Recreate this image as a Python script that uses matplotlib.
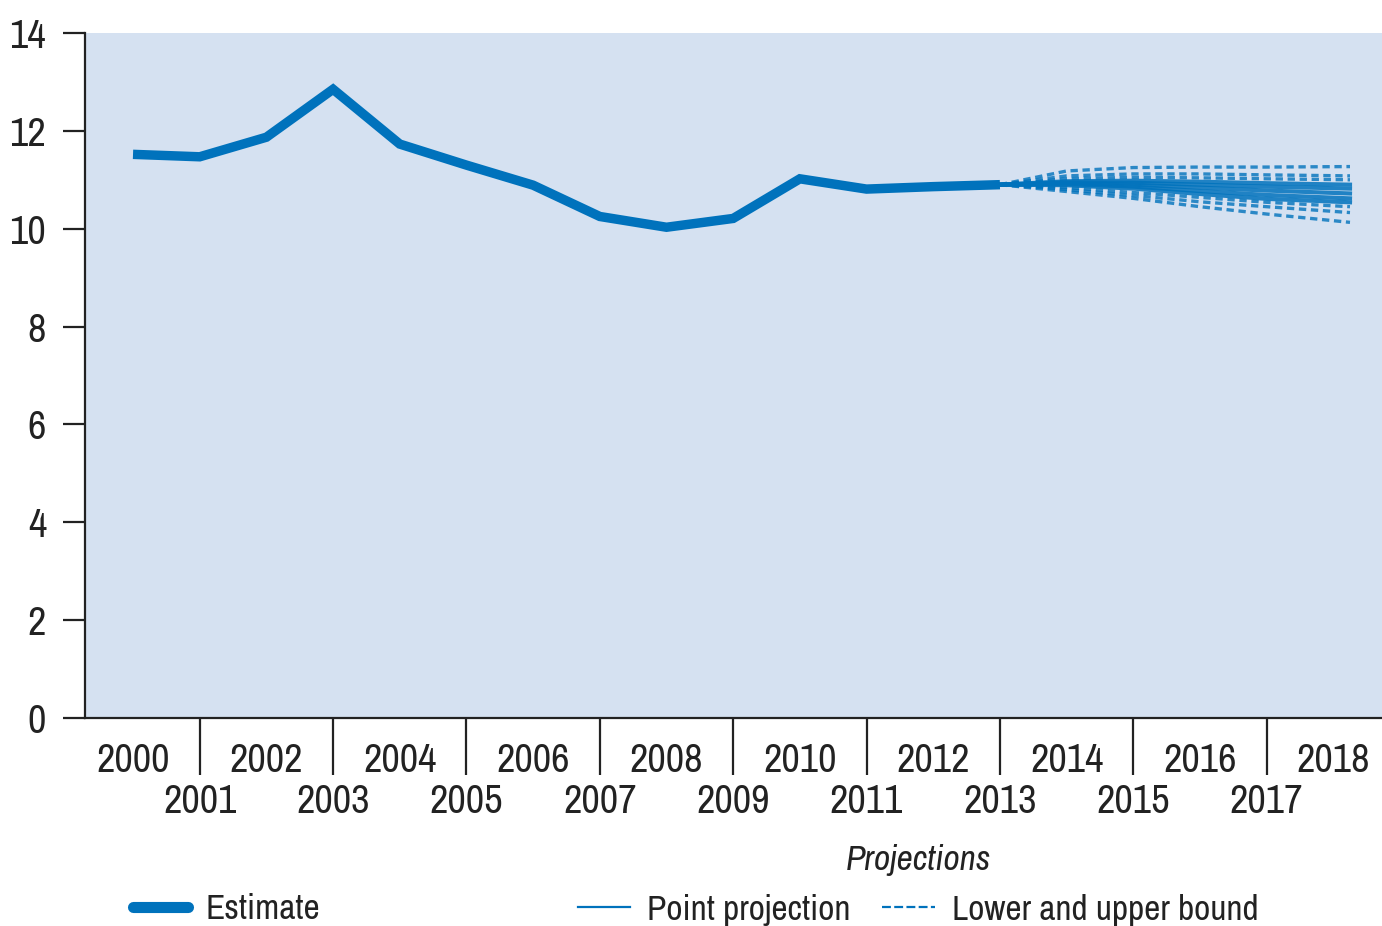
import matplotlib
matplotlib.use("Agg")
import matplotlib.pyplot as plt
from matplotlib import font_manager
from matplotlib.lines import Line2D
from matplotlib.ticker import FixedLocator, FixedFormatter

# Prefer a narrow sans face for the labels
_installed = font_manager.fontManager.ttflist
_narrow = [f for f in _installed
           if ('Narrow' in f.name or 'Condensed' in f.name
               or f.stretch in ('condensed', 'semi-condensed', 'extra-condensed', 'ultra-condensed'))
           and f.style == 'normal']
_narrow.sort(key=lambda f: (0 if 'Narrow' in f.name else 1 if 'Condensed' in f.name else 2,
                            abs((f.weight if isinstance(f.weight, int) else 400) - 400)))
if _narrow:
    FONT_NAME = _narrow[0].name
    FONT_STRETCH = _narrow[0].stretch
else:
    FONT_NAME, FONT_STRETCH = 'DejaVu Sans', 'normal'
plt.rcParams['font.family'] = [FONT_NAME, 'DejaVu Sans']
plt.rcParams['font.stretch'] = FONT_STRETCH

# Historical estimate
years = [2000, 2001, 2002, 2003, 2004, 2005, 2006, 2007, 2008, 2009, 2010, 2011, 2012, 2013]
estimate = [11.52, 11.47, 11.87, 12.85, 11.73, 11.30, 10.89, 10.25, 10.03, 10.21, 11.02, 10.81, 10.86, 10.90]

# Projection horizon
proj_years = [2013, 2014, 2015, 2016, 2017, 2018.25]
point_proj = [
    [10.90, 10.97, 10.98, 10.96, 10.93, 10.90],
    [10.90, 10.95, 10.94, 10.90, 10.86, 10.82],
    [10.90, 10.93, 10.90, 10.84, 10.78, 10.72],
    [10.90, 10.91, 10.86, 10.77, 10.69, 10.62],
    [10.90, 10.89, 10.82, 10.71, 10.61, 10.54],
]
upper_bound = [
    [10.90, 11.18, 11.25, 11.26, 11.26, 11.27],
    [10.90, 11.08, 11.12, 11.12, 11.10, 11.08],
    [10.90, 11.02, 11.05, 11.04, 11.02, 11.00],
]
lower_bound = [
    [10.90, 10.76, 10.62, 10.45, 10.30, 10.13],
    [10.90, 10.80, 10.68, 10.55, 10.45, 10.33],
    [10.90, 10.84, 10.74, 10.64, 10.54, 10.45],
]

y_ticks = [0, 2, 4, 6, 8, 10, 12, 14]
even_years = list(range(2000, 2019, 2))
odd_years = list(range(2001, 2018, 2))

BLUE = '#0072BC'
BG = '#D5E1F1'
INK = '#222222'
LABEL_SIZE = 29
LEGEND_SIZE = 25.5

fig = plt.figure(figsize=(13.82, 9.26), dpi=100)
ax = fig.add_axes([85 / 1382, 1 - 718 / 926, (1382 - 85) / 1382, (718 - 33) / 926])
ax.set_facecolor(BG)

ax.plot(years, estimate, color=BLUE, lw=6.8, solid_capstyle='butt', solid_joinstyle='miter', zorder=4)

for ys in upper_bound + lower_bound:
    ax.plot(proj_years, ys, color=BLUE, lw=2.4, ls=(0, (2.2, 1.4)), alpha=0.8, zorder=3)
for ys in point_proj:
    ax.plot(proj_years, ys, color=BLUE, lw=3.0, alpha=0.85, zorder=3)

ax.set_xlim(1999.28, 2018.73)
ax.set_ylim(0, 14)
ax.set_yticks(y_ticks)

for s in ('top', 'right'):
    ax.spines[s].set_visible(False)
for s in ('left', 'bottom'):
    ax.spines[s].set_linewidth(1.6)
    ax.spines[s].set_color(INK)

# Odd years: long separator ticks, labels on the second row
ax.xaxis.set_major_locator(FixedLocator(odd_years))
ax.xaxis.set_major_formatter(FixedFormatter([str(y) for y in odd_years]))
ax.tick_params(axis='x', which='major', length=41, width=1.6, color=INK,
               pad=6, labelsize=LABEL_SIZE, labelcolor=INK)
# Even years: first row of labels, no tick marks
ax.xaxis.set_minor_locator(FixedLocator(even_years))
ax.xaxis.set_minor_formatter(FixedFormatter([str(y) for y in even_years]))
ax.tick_params(axis='x', which='minor', length=0, pad=17.5, labelsize=LABEL_SIZE, labelcolor=INK)

ax.tick_params(axis='y', length=16, width=1.6, color=INK, pad=12,
               labelsize=LABEL_SIZE, labelcolor=INK)

# Legends
est_handle = Line2D([], [], color=BLUE, lw=8, solid_capstyle='round')
leg1 = fig.legend([est_handle], ['Estimate'], loc='center left',
                  bbox_to_anchor=(133 / 1382, 1 - 909 / 926), frameon=False,
                  fontsize=LEGEND_SIZE, handlelength=1.55, handletextpad=0.5,
                  borderpad=0, borderaxespad=0)
for t in leg1.get_texts():
    t.set_color(INK)

pt_handle = Line2D([], [], color=BLUE, lw=1.6)
bd_handle = Line2D([], [], color=BLUE, lw=1.6, ls=(0, (4, 1.5)))
leg2 = fig.legend([pt_handle, bd_handle], ['Point projection', 'Lower and upper bound'],
                  loc='upper left', bbox_to_anchor=(578 / 1382, 1 - 844 / 926),
                  ncol=2, frameon=False, fontsize=LEGEND_SIZE, handlelength=1.47,
                  handletextpad=0.48, columnspacing=0.9, borderpad=0,
                  borderaxespad=0, title='Projections',
                  title_fontproperties={'style': 'italic', 'size': LEGEND_SIZE,
                                        'family': [FONT_NAME, 'DejaVu Sans'],
                                        'stretch': FONT_STRETCH})
leg2.get_title().set_color(INK)
for t in leg2.get_texts():
    t.set_color(INK)

fig.savefig('out.png', dpi=100, facecolor='white')
